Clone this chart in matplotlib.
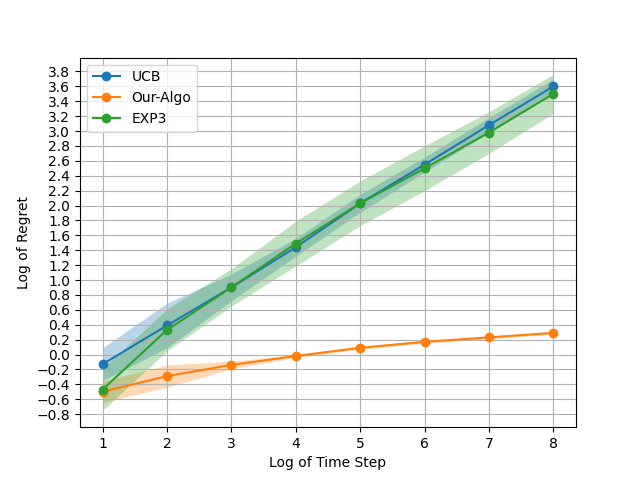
import numpy as np
import matplotlib
matplotlib.use("Agg")
import matplotlib.pyplot as plt

# log time steps
steps = [1, 2, 3, 4, 5, 6, 7, 8]

# mean log regret per algorithm
ucb_mean = [-0.13, 0.39, 0.90, 1.44, 2.03, 2.55, 3.08, 3.60]
ours_mean = [-0.50, -0.29, -0.14, -0.02, 0.09, 0.17, 0.23, 0.29]
exp3_mean = [-0.47, 0.33, 0.90, 1.49, 2.03, 2.50, 2.98, 3.50]

# spread of the shaded bands
ucb_std = [0.22, 0.30, 0.18, 0.12, 0.12, 0.10, 0.10, 0.10]
ours_std = [0.14, 0.15, 0.05, 0.02, 0.02, 0.02, 0.02, 0.02]
exp3_std = [0.28, 0.28, 0.25, 0.30, 0.30, 0.30, 0.28, 0.26]

fig, ax = plt.subplots(figsize=(6.4, 4.8), dpi=100)

series = [
    ("UCB", ucb_mean, ucb_std),
    ("Our-Algo", ours_mean, ours_std),
    ("EXP3", exp3_mean, exp3_std),
]
for label, mean, std in series:
    mean = np.array(mean)
    std = np.array(std)
    line, = ax.plot(steps, mean, marker="o", label=label)
    ax.fill_between(steps, mean - std, mean + std, color=line.get_color(), alpha=0.3, linewidth=0)

ax.set_yticks(np.round(np.arange(-0.8, 3.81, 0.2), 1))
ax.set_xlabel("Log of Time Step")
ax.set_ylabel("Log of Regret")
ax.grid(True)
ax.legend(loc="upper left")

plt.savefig("out.png", dpi=100)
